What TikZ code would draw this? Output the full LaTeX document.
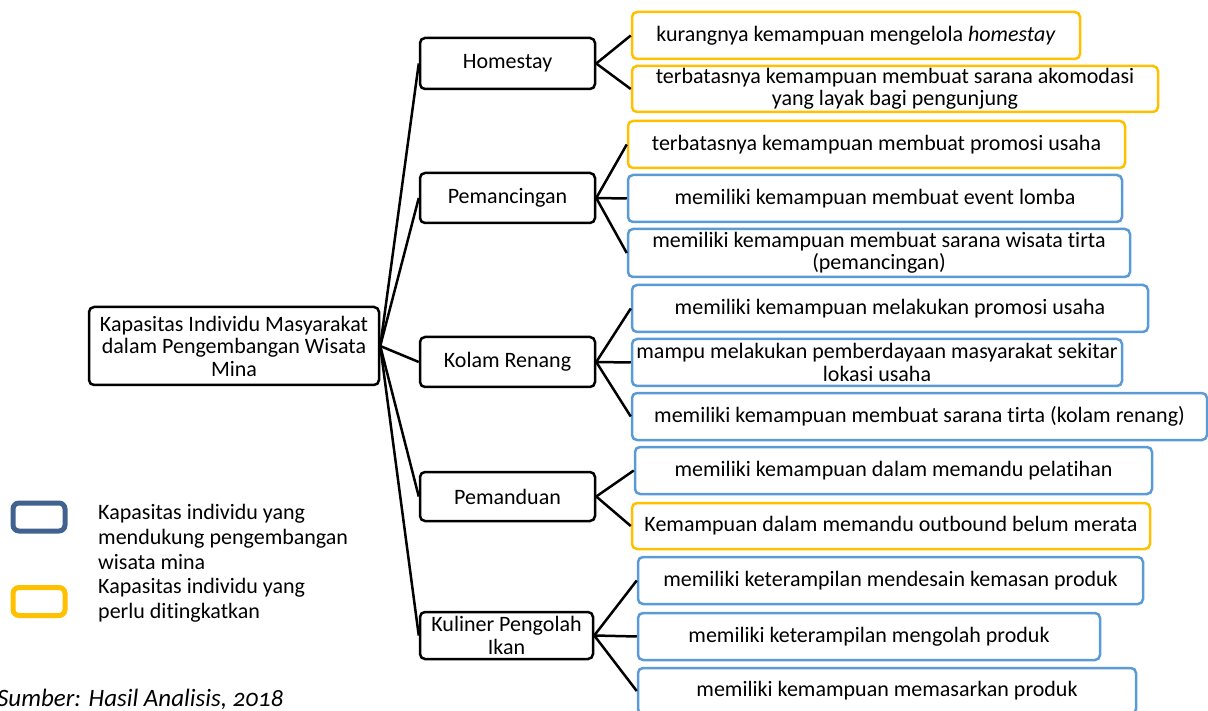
\documentclass[tikz,border=0pt]{standalone}
\usepackage{fontspec}
\setmainfont{Carlito}[Ligatures={NoCommon}]
\definecolor{ylw}{HTML}{FFC000}
\definecolor{lblue}{HTML}{5B9BD5}
\definecolor{dblue}{HTML}{41628F}
\begin{document}
\begin{tikzpicture}[x=1pt,y=-1pt,
  every node/.style={font=\fontsize{22}{22.5}\selectfont, inner sep=0pt, align=center},
  midbox/.style={draw=black, line width=2.5pt, rounded corners=5pt},
  leafY/.style={draw=ylw, line width=2.5pt, rounded corners=5pt},
  leafB/.style={draw=lblue, line width=2.5pt, rounded corners=5pt},
  conn/.style={line width=2.5pt, black}]
\useasboundingbox (0,0) rectangle (1208,711);

% root
\node[midbox, minimum width=290pt, minimum height=78pt] (root) at (234,346)
  {Kapasitas Individu Masyarakat\\dalam Pengembangan Wisata\\Mina};

% middle
\node[midbox, minimum width=175pt, minimum height=51pt] (home) at (507.5,63.5) {Homestay};
\node[midbox, minimum width=175pt, minimum height=50pt] (panc) at (507.5,198) {Pemancingan};
\node[midbox, minimum width=175pt, minimum height=50pt] (kolam) at (507.5,362) {Kolam Renang};
\node[midbox, minimum width=175pt, minimum height=49pt] (pand) at (507.5,496.5) {Pemanduan};
\node[midbox, minimum width=173pt, minimum height=47pt] (kul) at (506.5,635.5) {Kuliner Pengolah\\Ikan};

% leaves
\node[leafY, minimum width=448pt, minimum height=47pt] (l1) at (856,35.5) {kurangnya kemampuan mengelola \textit{homestay}};
\node[leafY, minimum width=526pt, minimum height=46pt] (l2) at (895,89) {terbatasnya kemampuan membuat sarana akomodasi\\yang layak bagi pengunjung};
\node[leafY, minimum width=497pt, minimum height=47pt] (p1) at (876.5,144.5) {terbatasnya kemampuan membuat promosi usaha};
\node[leafB, minimum width=494pt, minimum height=47pt] (p2) at (875,198.5) {memiliki kemampuan membuat event lomba};
\node[leafB, minimum width=502pt, minimum height=48pt] (p3) at (879,253) {memiliki kemampuan membuat sarana wisata tirta\\(pemancingan)};
\node[leafB, minimum width=516pt, minimum height=47pt] (k1) at (890,308.5) {memiliki kemampuan melakukan promosi usaha};
\node[leafB, minimum width=490pt, minimum height=47pt] (k2) at (877,362.5) {mampu melakukan pemberdayaan masyarakat sekitar\\lokasi usaha};
\node[leafB, minimum width=575pt, minimum height=47pt] (k3) at (919.5,416.5) {memiliki kemampuan membuat sarana tirta (kolam renang)};
\node[leafB, minimum width=517pt, minimum height=47pt] (d1) at (893.5,470.5) {memiliki kemampuan dalam memandu pelatihan};
\node[leafY, minimum width=518pt, minimum height=46pt] (d2) at (891,526) {Kemampuan dalam memandu outbound belum merata};
\node[leafB, minimum width=505pt, minimum height=47pt] (c1) at (890.5,580.5) {memiliki keterampilan mendesain kemasan produk};
\node[leafB, minimum width=462pt, minimum height=47pt] (c2) at (869,636.5) {memiliki keterampilan mengolah produk};
\node[leafB, minimum width=498pt, minimum height=46pt] (c3) at (887,691) {memiliki kemampuan memasarkan produk};

% connectors root -> middle
\foreach \m in {home,panc,kolam,pand,kul} \draw[conn] (root.east) -- (\m.west);
% middle -> leaves
\foreach \l in {l1,l2} \draw[conn] (home.east) -- (\l.west);
\foreach \l in {p1,p2,p3} \draw[conn] (panc.east) -- (\l.west);
\foreach \l in {k1,k2,k3} \draw[conn] (kolam.east) -- (\l.west);
\foreach \l in {d1,d2} \draw[conn] (pand.east) -- (\l.west);
\foreach \l in {c1,c2,c3} \draw[conn] (kul.east) -- (\l.west);

% legend
\node[draw=dblue, line width=5pt, rounded corners=6pt, minimum width=52pt, minimum height=28pt] (lg1) at (39,517) {};
\node[draw=ylw, line width=5pt, rounded corners=6pt, minimum width=52pt, minimum height=28pt] (lg2) at (39,601.5) {};
\node[anchor=west, align=left, font=\fontsize{22}{25}\selectfont] (lt1) at (98,537) {Kapasitas individu yang\\mendukung pengembangan\\wisata mina};
\node[anchor=west, align=left, font=\fontsize{22}{25}\selectfont] (lt2) at (98,600) {Kapasitas individu yang\\perlu ditingkatkan};

% source
\node[anchor=west, font=\fontsize{25}{28}\selectfont\itshape\addfontfeatures{Numbers=OldStyle}] (src) at (-3,699) {Sumber: Hasil Analisis, 2018};
\end{tikzpicture}
\end{document}
